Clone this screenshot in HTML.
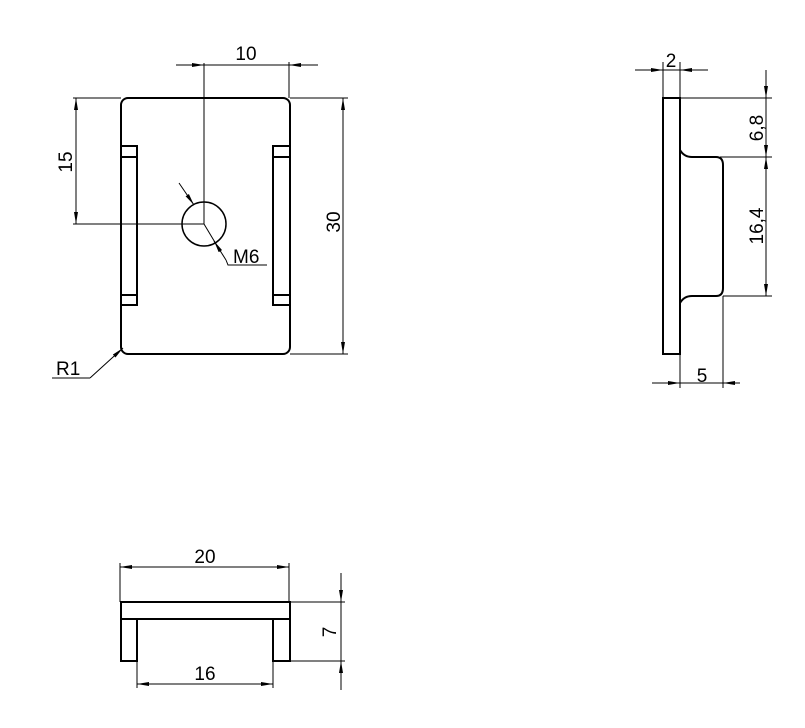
<!DOCTYPE html>
<html><head><meta charset="utf-8"><style>
html,body{margin:0;padding:0;background:#fff;}
svg{display:block;}
text{font-family:"Liberation Sans",sans-serif;font-size:19px;fill:#000;}
</style></head><body>
<svg width="805" height="728" viewBox="0 0 805 728" xmlns="http://www.w3.org/2000/svg">
<defs>
<marker id="a" viewBox="0 0 12 6" refX="12" refY="3" markerWidth="12" markerHeight="6" orient="auto" markerUnits="userSpaceOnUse">
<path d="M0,1 L12,3 L0,5 Z" fill="#000"/></marker>
</defs>
<g fill="none" stroke="#000">
<g stroke-width="2">
<rect x="121" y="98" width="169" height="256" rx="7" ry="7"/>
<path d="M121,146 H137 V305 H121 M121,157 H137 M121,295 H137"/>
<path d="M290,146 H273 V305 H290 M290,157 H273 M290,295 H273"/>
</g>
<circle cx="204" cy="224" r="22" stroke-width="1.5"/>
<g stroke-width="1">
<path d="M204,63 V224 H73"/>
<path d="M289,62 V98"/>
<path d="M176,65 H318"/>
<path d="M176,65 H204" marker-end="url(#a)"/>
<path d="M318,65 H289" marker-end="url(#a)"/>
<path d="M73,98 H121"/>
<path d="M76,120 V98" marker-end="url(#a)"/>
<path d="M76,200 V224" marker-end="url(#a)"/>
<path d="M76,98 V224"/>
<path d="M290,98 H348 M290,354 H348"/>
<path d="M343,98 V354"/>
<path d="M343,120 V98" marker-end="url(#a)"/>
<path d="M343,330 V354" marker-end="url(#a)"/>
<path d="M179,183 L194,205" marker-end="url(#a)"/>
<path d="M204,224 L216,244"/>
<path d="M226,260 L214,241" marker-end="url(#a)"/>
<path d="M226,260 L228,265 H267"/>
<path d="M90,378 L123,348" marker-end="url(#a)"/>
<path d="M52,378 H90"/>
</g>
<g stroke-width="2">
<rect x="663" y="98" width="17" height="256"/>
<path d="M680,150 Q684,157 692,157 H716 Q723,157 723,165 V288 Q723,296 716,296 H692 Q684,296 680,303"/>
</g>
<g stroke-width="1">
<path d="M663,62 V98 M680,62 V98"/>
<path d="M635,70 H708"/>
<path d="M635,70 H663" marker-end="url(#a)"/>
<path d="M708,70 H680" marker-end="url(#a)"/>
<path d="M680,98 H772 M720,157 H772 M723,296 H772"/>
<path d="M766,70 V296"/>
<path d="M766,75 V98" marker-end="url(#a)"/>
<path d="M766,135 V157" marker-end="url(#a)"/>
<path d="M766,180 V157" marker-end="url(#a)"/>
<path d="M766,275 V296" marker-end="url(#a)"/>
<path d="M680,354 V388 M723,296 V388"/>
<path d="M652,383 H740"/>
<path d="M652,383 H680" marker-end="url(#a)"/>
<path d="M740,383 H723" marker-end="url(#a)"/>
</g>
<g stroke-width="2">
<rect x="121" y="602" width="169" height="17"/>
<path d="M121,619 V661 H137 V619 M290,619 V661 H273 V619"/>
</g>
<g stroke-width="1">
<path d="M120,563 V602 M289,563 V602"/>
<path d="M120,567 H289"/>
<path d="M145,567 H120" marker-end="url(#a)"/>
<path d="M265,567 H289" marker-end="url(#a)"/>
<path d="M290,602 H345 M290,661 H345"/>
<path d="M341,573 V690"/>
<path d="M341,580 V602" marker-end="url(#a)"/>
<path d="M341,683 V661" marker-end="url(#a)"/>
<path d="M137,661 V688 M273,661 V688"/>
<path d="M137,684 H273"/>
<path d="M160,684 H137" marker-end="url(#a)"/>
<path d="M250,684 H273" marker-end="url(#a)"/>
</g>
</g>
<text x="246" y="60" text-anchor="middle">10</text>
<text transform="translate(72,162) rotate(-90)" text-anchor="middle">15</text>
<text transform="translate(340,222) rotate(-90)" text-anchor="middle">30</text>
<text x="233" y="263">M6</text>
<text x="56" y="375">R1</text>
<text x="671" y="67" text-anchor="middle">2</text>
<text transform="translate(763,128) rotate(-90)" text-anchor="middle">6,8</text>
<text transform="translate(763,226) rotate(-90)" text-anchor="middle">16,4</text>
<text x="702" y="382" text-anchor="middle">5</text>
<text x="205" y="563" text-anchor="middle">20</text>
<text transform="translate(336,632) rotate(-90)" text-anchor="middle">7</text>
<text x="205" y="680" text-anchor="middle">16</text>
</svg>
</body></html>
